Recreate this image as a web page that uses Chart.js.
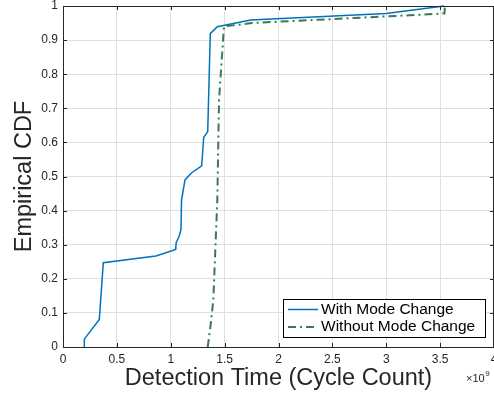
<!DOCTYPE html>
<html>
<head>
<meta charset="utf-8">
<title>Detection Time CDF</title>
<script src="https://cdn.jsdelivr.net/npm/chart.js@4.4.0/dist/chart.umd.min.js"></script>
<style>
body { margin: 0; background: white; }
#wrap { width: 494px; height: 396px; }
</style>
</head>
<body>
<div id="wrap"><canvas id="cdf" width="494" height="396"></canvas></div>
<script>
// values (x in units of 1e9 cycles)
var withModeX = [0.198, 0.198, 0.337, 0.374, 0.863, 1.046, 1.05, 1.077, 1.095, 1.10, 1.132, 1.194, 1.287, 1.306, 1.343, 1.367, 1.432, 1.742, 3.0, 3.536];
var withModeY = [0, 0.023, 0.081, 0.247, 0.267, 0.286, 0.306, 0.324, 0.345, 0.43, 0.49, 0.511, 0.531, 0.615, 0.631, 0.919, 0.939, 0.959, 0.978, 1.0];
var withoutModeX = [1.343, 1.37, 1.395, 1.432, 1.448, 1.494, 1.75, 3.54, 3.545];
var withoutModeY = [0, 0.065, 0.138, 0.43, 0.724, 0.94, 0.95, 0.978, 1.0];
var seriesNames = ['With Mode Change', 'Without Mode Change'];
var xTitle = 'Detection Time (Cycle Count)';
var yTitle = 'Empirical CDF';

var FONT = "'Liberation Sans', Arial, Helvetica, sans-serif";
var AXIS_COLOR = '#262626';

function toPoints(xs, ys) {
	var pts = [];
	for (var i = 0; i < xs.length; i++) {
		pts.push({x: xs[i], y: ys[i]});
	}
	return pts;
}

// matlab style tick text: 0, 0.5, 1 ... (no trailing zeros)
function plainTick(value) {
	return String(parseFloat(value.toFixed(2)));
}

// matlab style box: top/right lines, inward ticks, exponent, legend inside the axes
var matlabBox = {
	id: 'matlabBox',
	afterDatasetsDraw: function(chart) {
		var ctx = chart.ctx;
		var ca = chart.chartArea;
		var xs = chart.scales.x, ys = chart.scales.y;
		var tl = 4;
		ctx.save();
		ctx.strokeStyle = AXIS_COLOR;
		ctx.lineWidth = 1;
		ctx.beginPath();
		ctx.moveTo(ca.left, ca.top + 0.5); ctx.lineTo(ca.right, ca.top + 0.5);
		ctx.moveTo(ca.right - 0.5, ca.top); ctx.lineTo(ca.right - 0.5, ca.bottom);
		xs.ticks.forEach(function(t) {
			var px = Math.round(xs.getPixelForValue(t.value)) + 0.5;
			ctx.moveTo(px, ca.bottom); ctx.lineTo(px, ca.bottom - tl);
			ctx.moveTo(px, ca.top); ctx.lineTo(px, ca.top + tl);
		});
		ys.ticks.forEach(function(t) {
			var py = Math.round(ys.getPixelForValue(t.value)) + 0.5;
			ctx.moveTo(ca.left, py); ctx.lineTo(ca.left + tl, py);
			ctx.moveTo(ca.right, py); ctx.lineTo(ca.right - tl, py);
		});
		ctx.stroke();

		// x10^9 exponent label
		ctx.fillStyle = AXIS_COLOR;
		ctx.textBaseline = 'alphabetic';
		ctx.font = '11px ' + FONT;
		var ex = ca.right - 28, ey = ca.bottom + 35;
		ctx.fillText('\u00d710', ex, ey);
		var w = ctx.measureText('\u00d710').width;
		ctx.font = '8px ' + FONT;
		ctx.fillText('9', ex + w + 0.5, ey - 6);

		// legend
		var bw = 202, bh = 38;
		var bx = Math.round(ca.right - 9 - bw), by = Math.round(ca.bottom - 10 - bh);
		ctx.fillStyle = 'white';
		ctx.fillRect(bx, by, bw, bh);
		ctx.strokeStyle = '#000';
		ctx.lineWidth = 1;
		ctx.setLineDash([]);
		ctx.strokeRect(bx + 0.5, by + 0.5, bw, bh);
		ctx.font = '15.5px ' + FONT;
		ctx.textBaseline = 'middle';
		chart.data.datasets.forEach(function(ds, i) {
			var ly = by + 10.5 + i * 17.4;
			ctx.strokeStyle = ds.borderColor;
			ctx.lineWidth = ds.borderWidth;
			ctx.setLineDash(ds.borderDash || []);
			ctx.beginPath();
			ctx.moveTo(bx + 5, ly); ctx.lineTo(bx + 35, ly);
			ctx.stroke();
			ctx.setLineDash([]);
			ctx.fillStyle = '#000';
			ctx.fillText(ds.label, bx + 38, ly);
		});
		ctx.restore();
	}
};

var ctx = document.getElementById('cdf').getContext('2d');
var cdfChart = new Chart(ctx, {
	type: 'scatter',
	data: {
		datasets: [{
			label: seriesNames[0],
			data: toPoints(withModeX, withModeY),
			showLine: true,
			borderColor: '#0072BD',
			borderWidth: 1.5,
			pointRadius: 0,
			tension: 0,
			clip: false
		}, {
			label: seriesNames[1],
			data: toPoints(withoutModeX, withoutModeY),
			showLine: true,
			borderColor: '#3b7856',
			borderWidth: 2,
			borderDash: [8, 4, 2, 4],
			pointRadius: 0,
			tension: 0,
			clip: false
		}]
	},
	options: {
		responsive: false,
		animation: false,
		layout: { padding: { top: 6, left: 0, right: 0, bottom: 0 } },
		plugins: {
			legend: { display: false },
			tooltip: { enabled: false }
		},
		scales: {
			x: {
				type: 'linear',
				min: 0, max: 4,
				ticks: { stepSize: 0.5, padding: 5, color: AXIS_COLOR, font: { family: FONT, size: 12 }, maxRotation: 0, callback: plainTick },
				grid: { color: '#e0e0e0', drawTicks: false },
				border: { display: true, color: AXIS_COLOR },
				title: { display: true, text: xTitle, color: AXIS_COLOR, font: { family: FONT, size: 23.5 }, padding: { top: 0, bottom: 3 } },
				afterFit: function(scale) { scale.height = 49; scale.paddingLeft = 0; scale.paddingRight = 0; }
			},
			y: {
				type: 'linear',
				min: 0, max: 1,
				ticks: { stepSize: 0.1, padding: 5, color: AXIS_COLOR, font: { family: FONT, size: 12 }, callback: plainTick },
				grid: { color: '#e0e0e0', drawTicks: false },
				border: { display: true, color: AXIS_COLOR },
				title: { display: true, text: yTitle, color: AXIS_COLOR, font: { family: FONT, size: 23.5 }, padding: { top: 10, bottom: 0 } },
				afterFit: function(scale) { scale.width = 63; scale.paddingTop = 0; scale.paddingBottom = 0; }
			}
		}
	},
	plugins: [matlabBox]
});
</script>
</body>
</html>
